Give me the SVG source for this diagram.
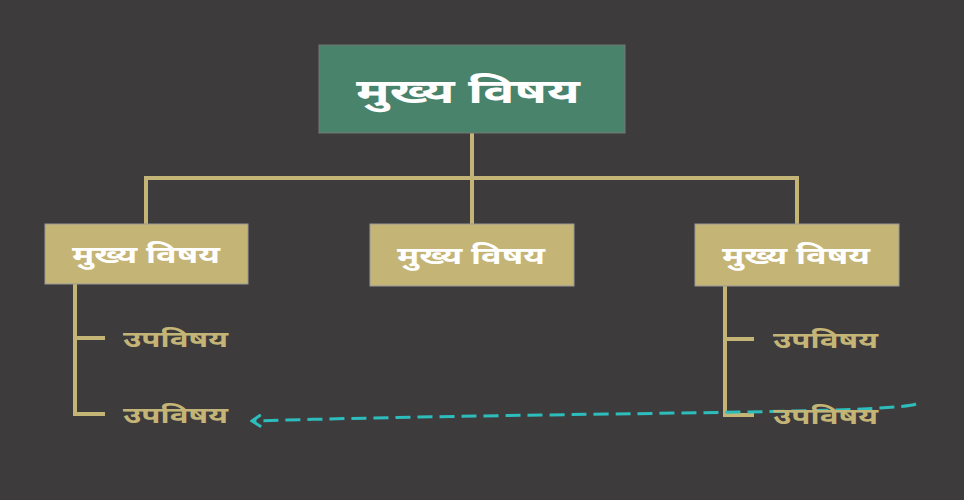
<svg xmlns="http://www.w3.org/2000/svg" width="964" height="500" viewBox="0 0 964 500">
<defs>
<style>
.line{fill:none;stroke:#c4b577;stroke-width:4}
.sub{fill:#c4b577;stroke:#999;stroke-width:1}
.t{font-family:"Noto Sans","Noto Sans Devanagari",sans-serif;font-weight:bold;text-anchor:middle}
.tw{fill:#ffffff;font-size:24px}
.ts{fill:#c4b577;font-size:23px;font-family:"Noto Sans",sans-serif;font-weight:bold}
</style>
<marker id="arr" viewBox="0 0 12 14" refX="10" refY="7" markerWidth="12" markerHeight="14" markerUnits="userSpaceOnUse" orient="auto">
<path d="M1,1 L10,7 L1,13" fill="none" stroke="#2ebdbd" stroke-width="3"/>
</marker>
</defs>
<rect width="964" height="500" fill="#3d3b3c"/>
<g id="connectors">
<path class="line" d="M472,133 V224 M146,224 V178 H797 V224"/>
<path class="line" d="M75,284 V414 H105 M75,338 H105"/>
<path class="line" d="M725,286 V415 H754 M725,339 H754"/>
<path d="M916,404 C890,414 560,412 252,421" fill="none" stroke="#2ebdbd" stroke-width="3" stroke-dasharray="15,7" marker-end="url(#arr)"/>
</g>
<g id="root">
<rect x="319" y="45" width="306" height="88" fill="#4a836b" stroke="#777" stroke-width="1"/>
<text class="t" x="468" y="103" fill="#fff" font-size="34" textLength="224" lengthAdjust="spacingAndGlyphs">मुख्य विषय</text>
</g>
<g id="left">
<rect class="sub" x="45" y="224" width="203" height="60" stroke="none"/>
<text class="t tw" x="146" y="263" textLength="148" lengthAdjust="spacingAndGlyphs">मुख्य विषय</text>
</g>
<g id="middle">
<rect class="sub" x="370" y="224" width="204" height="62"/>
<text class="t tw" x="471" y="264" textLength="148" lengthAdjust="spacingAndGlyphs">मुख्य विषय</text>
</g>
<g id="right">
<rect class="sub" x="695" y="224" width="204" height="62"/>
<text class="t tw" x="796" y="264" textLength="148" lengthAdjust="spacingAndGlyphs">मुख्य विषय</text>
</g>
<g id="left-sub1"><text class="ts" x="123" y="347" textLength="105" lengthAdjust="spacingAndGlyphs">उपविषय</text></g>
<g id="left-sub2"><text class="ts" x="123" y="423" textLength="105" lengthAdjust="spacingAndGlyphs">उपविषय</text></g>
<g id="right-sub1"><text class="ts" x="773" y="348" textLength="105" lengthAdjust="spacingAndGlyphs">उपविषय</text></g>
<g id="right-sub2"><text class="ts" x="773" y="424" textLength="105" lengthAdjust="spacingAndGlyphs">उपविषय</text></g>
</svg>
